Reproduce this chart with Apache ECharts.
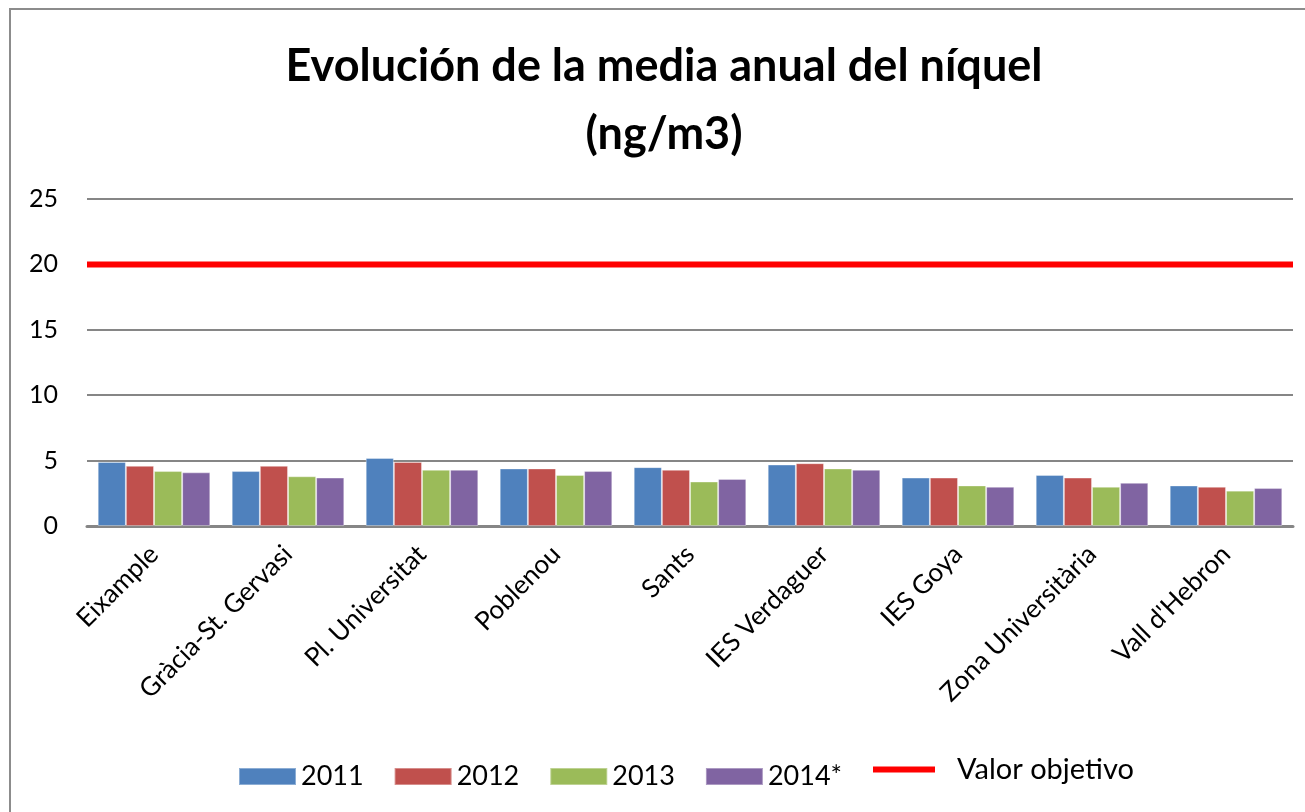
<!DOCTYPE html>
<html>
<head>
    <meta charset="utf-8" />
    <title>Níquel</title>
    <script src="https://cdn.jsdelivr.net/npm/echarts@6/dist/echarts.min.js"></script>
    <style>
        html, body { margin: 0; padding: 0; background: #fff; }
        #main { width: 1305px; height: 812px; }
    </style>
</head>
<body>
<div id="main"></div>
<script type="text/javascript">
    // estaciones
    var estaciones = ['Eixample', 'Gràcia-St. Gervasi', 'Pl. Universitat', 'Poblenou', 'Sants',
        'IES Verdaguer', 'IES Goya', 'Zona Universitària', "Vall d'Hebron"];
    var anyos = ['2011', '2012', '2013', '2014*'];
    var media2011 = [4.9, 4.2, 5.2, 4.4, 4.5, 4.7, 3.7, 3.9, 3.1];
    var media2012 = [4.6, 4.6, 4.9, 4.4, 4.3, 4.8, 3.7, 3.7, 3.0];
    var media2013 = [4.2, 3.8, 4.3, 3.9, 3.4, 4.4, 3.1, 3.0, 2.7];
    var media2014 = [4.1, 3.7, 4.3, 4.2, 3.6, 4.3, 3.0, 3.3, 2.9];
    var valorObjetivo = [20, 20, 20, 20, 20, 20, 20, 20, 20];
    var yTicks = [0, 5, 10, 15, 20, 25];

    var colores = ['#4F81BD', '#C0504D', '#9BBB59', '#8064A2'];
    var fuente = 'Lato, "Open Sans", sans-serif';

    function barra(nombre, datos, color) {
        return {
            name: nombre,
            type: 'bar',
            data: datos,
            barGap: '0%',
            barCategoryGap: '16%',
            itemStyle: { color: color, borderColor: 'rgba(255,255,255,0.35)', borderWidth: 1 }
        };
    }

    var option = {
        backgroundColor: '#FFFFFF',
        animation: false,
        title: {
            text: 'Evolución de la media anual del níquel\n(ng/m3)',
            left: 659,
            top: 27,
            textAlign: 'center',
            textStyle: {
                fontFamily: fuente,
                fontSize: 45,
                fontWeight: 'bold',
                lineHeight: 68,
                color: '#000'
            }
        },
        graphic: [{
            type: 'rect',
            z: -10,
            shape: { x: 10, y: 9, width: 1400, height: 900 },
            style: { fill: 'none', stroke: '#8c8c8c', lineWidth: 2 }
        }],
        legend: [{
            data: anyos,
            left: 233,
            top: 758,
            icon: 'rect',
            itemWidth: 57,
            itemHeight: 17,
            itemGap: 30,
            textStyle: { fontFamily: fuente, fontSize: 27, color: '#000' }
        }, {
            data: ['Valor objetivo'],
            left: 868,
            top: 750,
            icon: 'rect',
            itemWidth: 62,
            itemHeight: 6,
            textStyle: { fontFamily: fuente, fontSize: 29, color: '#000', padding: [0, 0, 4, 17] }
        }],
        grid: {
            left: 87,
            right: 12,
            top: 199,
            bottom: 286,
            containLabel: false
        },
        xAxis: [{
            type: 'category',
            data: estaciones,
            axisTick: { show: false },
            axisLine: { show: true, lineStyle: { color: '#868686', width: 3 } },
            axisLabel: {
                rotate: 45,
                margin: 24,
                fontFamily: fuente,
                fontSize: 26,
                color: '#000'
            }
        }, {
            type: 'category',
            data: estaciones,
            show: false,
            boundaryGap: false
        }],
        yAxis: {
            type: 'value',
            min: yTicks[0],
            max: yTicks[yTicks.length - 1],
            interval: 5,
            axisLine: { show: false },
            axisTick: { show: false },
            splitLine: { lineStyle: { color: '#868686', width: 2 } },
            axisLabel: {
                margin: 29,
                fontFamily: fuente,
                fontSize: 25,
                color: '#000'
            }
        },
        series: [
            barra(anyos[0], media2011, colores[0]),
            barra(anyos[1], media2012, colores[1]),
            barra(anyos[2], media2013, colores[2]),
            barra(anyos[3], media2014, colores[3]),
            {
                name: 'Valor objetivo',
                type: 'line',
                xAxisIndex: 1,
                data: valorObjetivo,
                symbol: 'none',
                color: '#FF0000',
                lineStyle: { color: '#FF0000', width: 6 },
                z: 5
            }
        ]
    };

    var myChart = echarts.init(document.getElementById('main'));
    myChart.setOption(option);
</script>
</body>
</html>
